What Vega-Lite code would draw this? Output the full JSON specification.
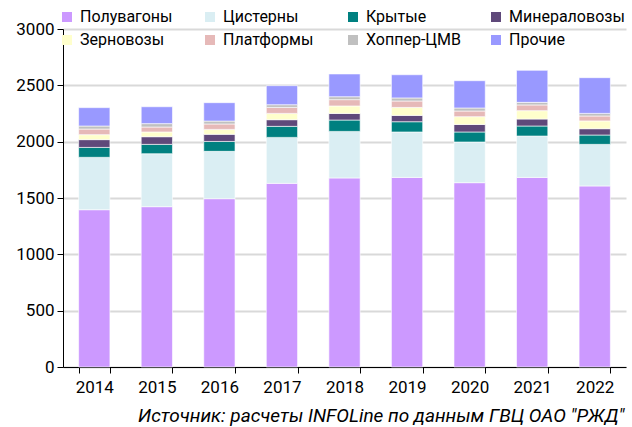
{
  "$schema": "https://vega.github.io/schema/vega-lite/v6.json",
  "width": 563,
  "height": 338,
  "autosize": {"type": "none"},
  "padding": {"left": 63, "top": 29, "right": 6, "bottom": 60},
  "background": "white",
  "datasets": {
    "ranks": [
      {"type": "Полувагоны", "rank": 1},
      {"type": "Цистерны", "rank": 2},
      {"type": "Крытые", "rank": 3},
      {"type": "Минераловозы", "rank": 4},
      {"type": "Зерновозы", "rank": 5},
      {"type": "Платформы", "rank": 6},
      {"type": "Хоппер-ЦМВ", "rank": 7},
      {"type": "Прочие", "rank": 8}
    ]
  },
  "data": {
    "values": [
      {"year": "2014", "Полувагоны": 1396, "Цистерны": 465, "Крытые": 88, "Минераловозы": 69, "Зерновозы": 44, "Платформы": 50, "Хоппер-ЦМВ": 27, "Прочие": 163},
      {"year": "2015", "Полувагоны": 1423, "Цистерны": 470, "Крытые": 83, "Минераловозы": 68, "Зерновозы": 42, "Платформы": 44, "Хоппер-ЦМВ": 30, "Прочие": 150},
      {"year": "2016", "Полувагоны": 1494, "Цистерны": 420, "Крытые": 88, "Минераловозы": 63, "Зерновозы": 44, "Платформы": 48, "Хоппер-ЦМВ": 26, "Прочие": 163},
      {"year": "2017", "Полувагоны": 1630, "Цистерны": 408, "Крытые": 98, "Минераловозы": 59, "Зерновозы": 56, "Платформы": 53, "Хоппер-ЦМВ": 24, "Прочие": 169},
      {"year": "2018", "Полувагоны": 1678, "Цистерны": 413, "Крытые": 101, "Минераловозы": 59, "Зерновозы": 66, "Платформы": 56, "Хоппер-ЦМВ": 26, "Прочие": 202},
      {"year": "2019", "Полувагоны": 1683, "Цистерны": 403, "Крытые": 91, "Минераловозы": 56, "Зерновозы": 71, "Платформы": 57, "Хоппер-ЦМВ": 27, "Прочие": 206},
      {"year": "2020", "Полувагоны": 1636, "Цистерны": 361, "Крытые": 89, "Минераловозы": 67, "Зерновозы": 69, "Платформы": 50, "Хоппер-ЦМВ": 27, "Прочие": 242},
      {"year": "2021", "Полувагоны": 1683, "Цистерны": 367, "Крытые": 89, "Минераловозы": 62, "Зерновозы": 74, "Платформы": 51, "Хоппер-ЦМВ": 23, "Прочие": 284},
      {"year": "2022", "Полувагоны": 1607, "Цистерны": 369, "Крытые": 83, "Минераловозы": 56, "Зерновозы": 69, "Платформы": 44, "Хоппер-ЦМВ": 23, "Прочие": 317}
    ]
  },
  "transform": [
    {"fold": ["Полувагоны", "Цистерны", "Крытые", "Минераловозы", "Зерновозы", "Платформы", "Хоппер-ЦМВ", "Прочие"], "as": ["type", "value"]},
    {"lookup": "type", "from": {"data": {"name": "ranks"}, "key": "type", "fields": ["rank"]}}
  ],
  "mark": {"type": "bar", "stroke": "white", "strokeWidth": 1, "strokeOpacity": 0.6},
  "encoding": {
    "x": {
      "field": "year",
      "type": "ordinal",
      "scale": {"paddingInner": 0.5, "paddingOuter": 0.25},
      "axis": {
        "labelAngle": 0,
        "labelFontSize": 17,
        "labelColor": "black",
        "labelPadding": 6,
        "domainColor": "black",
        "domainWidth": 1,
        "tickColor": "black",
        "tickSize": 6,
        "tickBand": "extent",
        "grid": false,
        "title": "Источник: расчеты INFOLine по данным ГВЦ ОАО \"РЖД\"",
        "titleFontSize": 19,
        "titleFontStyle": "italic",
        "titleFontWeight": "normal",
        "titleColor": "black",
        "titleAnchor": "end",
        "titleAlign": "right",
        "titleBaseline": "alphabetic",
        "titleX": 561,
        "titleY": 54
      }
    },
    "y": {
      "field": "value",
      "type": "quantitative",
      "stack": "zero",
      "scale": {"domain": [0, 3000]},
      "axis": {
        "values": [0, 500, 1000, 1500, 2000, 2500, 3000],
        "format": "d",
        "title": null,
        "labelFontSize": 17,
        "labelColor": "black",
        "labelPadding": 3,
        "domainColor": "black",
        "domainWidth": 1,
        "tickColor": "black",
        "tickSize": 6,
        "gridColor": "#d9d9d9",
        "gridWidth": 2
      }
    },
    "order": {"field": "rank", "type": "quantitative", "sort": "ascending"},
    "color": {
      "field": "type",
      "type": "nominal",
      "sort": ["Полувагоны", "Цистерны", "Крытые", "Минераловозы", "Зерновозы", "Платформы", "Хоппер-ЦМВ", "Прочие"],
      "scale": {
        "domain": ["Полувагоны", "Цистерны", "Крытые", "Минераловозы", "Зерновозы", "Платформы", "Хоппер-ЦМВ", "Прочие"],
        "range": ["#cc99ff", "#daeef3", "#008080", "#5f497a", "#ffffcc", "#e6b9b8", "#c0c0c0", "#9999ff"]
      },
      "legend": {
        "orient": "none",
        "legendX": -4,
        "legendY": -20,
        "direction": "horizontal",
        "columns": 4,
        "gridAlign": "all",
        "title": null,
        "padding": 0,
        "symbolType": "square",
        "symbolSize": 100,
        "symbolStrokeWidth": 0,
        "symbolOpacity": 1,
        "labelFontSize": 16,
        "labelColor": "black",
        "labelOffset": 5,
        "labelLimit": 200,
        "columnPadding": 6,
        "rowPadding": 7
      }
    }
  },
  "config": {
    "view": {"stroke": null},
    "font": "Roboto"
  }
}
